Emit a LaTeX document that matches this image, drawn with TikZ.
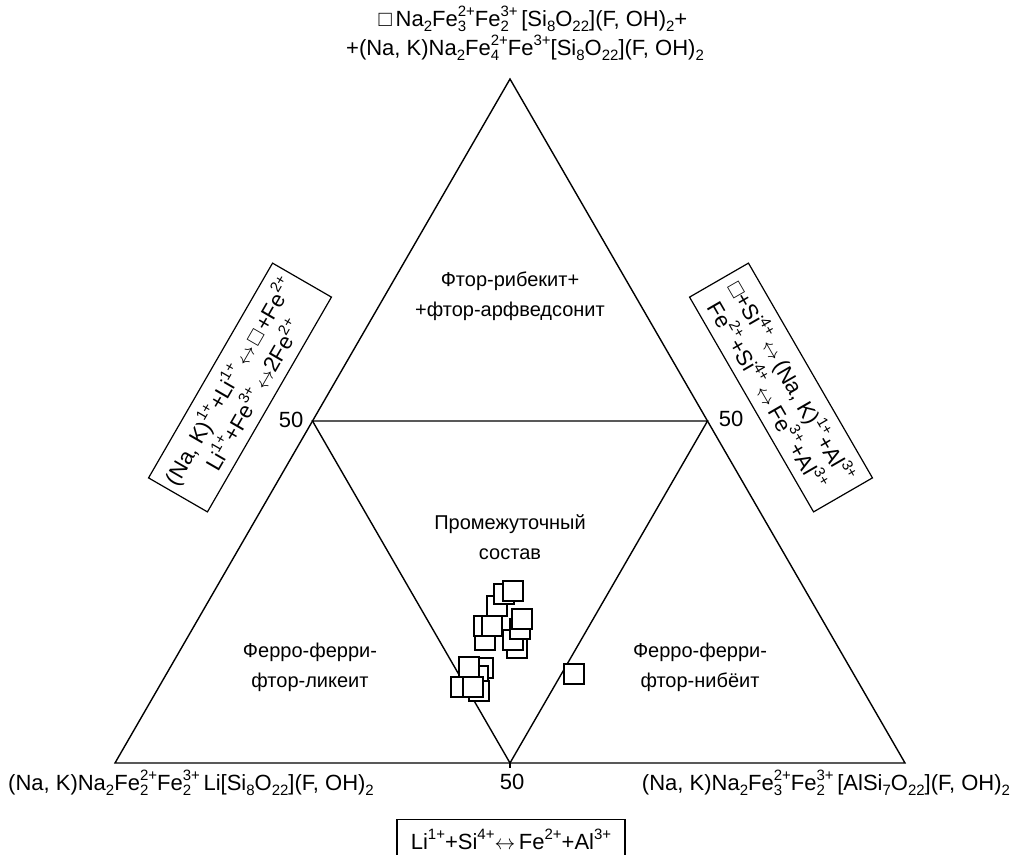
\documentclass[tikz,border=0pt]{standalone}
\usepackage{fontspec}
\setmainfont{Liberation Sans}
\newcommand\up[1]{\raisebox{0.45em}{\fontsize{15}{15}\selectfont #1}}
\newcommand\dn[1]{\raisebox{-0.22em}{\fontsize{15}{15}\selectfont #1}}
\newcommand\ud[2]{\rlap{\dn{#2}}\up{#1}}
\newcommand\lr{\ensuremath{\leftrightarrow}}
\begin{document}
\begin{tikzpicture}[x=1pt,y=-1pt,font=\fontsize{22}{26}\selectfont,
  tri/.style={line width=1.4pt},
  lbl/.style={align=center,inner sep=0pt,font=\fontsize{20}{30}\selectfont},
  rbox/.style={draw,line width=1.2pt,align=center,inner sep=0pt,minimum width=248pt,minimum height=68pt,font=\fontsize{22}{28}\selectfont},
  mk/.style={draw,fill=white,line width=1.8pt,minimum size=20pt,inner sep=0pt,rectangle}]
\useasboundingbox (0,0) rectangle (1011,854);
\coordinate (T) at (510,79);
\coordinate (L) at (115,763);
\coordinate (R) at (905,763);
\coordinate (ML) at (312.5,421);
\coordinate (MR) at (707.5,421);
\coordinate (MB) at (510,763);
\coordinate (MBt) at (510,768);
\draw[tri] (L) -- (T) -- (R) -- cycle;
\draw[tri] (ML) -- (MR) -- (MB) -- cycle;
\draw[tri] (MB) -- (MBt);
% vertex labels
\node[inner sep=0pt] (top1) at (533,19) {□\,Na\dn{2}Fe\ud{2+}{3}Fe\ud{3+}{2}\,[Si\dn{8}O\dn{22}](F, OH)\dn{2}+};
\node[inner sep=0pt] (top2) at (525,48) {+(Na, K)Na\dn{2}Fe\ud{2+}{4}Fe\up{3+}[Si\dn{8}O\dn{22}](F, OH)\dn{2}};
\node[inner sep=0pt] (bl) at (191,783) {(Na, K)Na\dn{2}Fe\ud{2+}{2}Fe\ud{3+}{2}\,Li[Si\dn{8}O\dn{22}](F, OH)\dn{2}};
\node[inner sep=0pt] (br) at (826,783) {(Na, K)Na\dn{2}Fe\ud{2+}{3}Fe\ud{3+}{2}\,[AlSi\dn{7}O\dn{22}](F, OH)\dn{2}};
% 50 labels
\node[inner sep=0pt] (n50l) at (291,420) {50};
\node[inner sep=0pt] (n50r) at (731,419) {50};
\node[inner sep=0pt] (n50b) at (512,782) {50};
% field labels
\node[lbl] (f1) at (510,296) {Фтор-рибекит+\\+фтор-арфведсонит};
\node[lbl] (f2) at (510,537) {Промежуточный\\состав};
\node[lbl] (f3) at (310,667) {Ферро-ферри-\\фтор-ликеит};
\node[lbl] (f4) at (700,667) {Ферро-ферри-\\фтор-нибёит};
% boxes
\node[rbox,rotate=60] (bxl) at (240,387.5) {(Na, K)\up{1+}+Li\up{1+}\,\lr\,□\,+Fe\up{2+}\\Li\up{1+}+Fe\up{3+}\,\lr2Fe\up{2+}};
\node[rbox,rotate=-60] (bxr) at (781,387.5) {□+Si\up{4+}\,\lr\,(Na, K)\up{1+}+Al\up{3+}\\Fe\up{2+}+Si\up{4+}\,\lr\,Fe\up{3+}+Al\up{3+}};
\node[draw,line width=1.2pt,inner sep=0pt,minimum width=228pt,minimum height=40pt,anchor=north] (bxb) at (511,819) {\raisebox{-4pt}{Li\up{1+}+Si\up{4+}\lr\,Fe\up{2+}+Al\up{3+}}};
% data points
\node[mk] (p1) at (497,606) {};
\node[mk] (p2) at (504,594) {};
\node[mk] (p3) at (513,591) {};
\node[mk] (p4) at (485,640) {};
\node[mk] (p5) at (484,626) {};
\node[mk] (p6) at (492,626) {};
\node[mk] (p7) at (517,648) {};
\node[mk] (p8) at (513,640) {};
\node[mk] (p9) at (520,629) {};
\node[mk] (p10) at (522,619) {};
\node[mk] (p11) at (483,668) {};
\node[mk] (p12) at (478,676) {};
\node[mk] (p13) at (469,667) {};
\node[mk] (p14) at (479,691) {};
\node[mk] (p15) at (461,687) {};
\node[mk] (p16) at (473,687) {};
\node[mk] (p17) at (574,674) {};
\end{tikzpicture}
\end{document}
